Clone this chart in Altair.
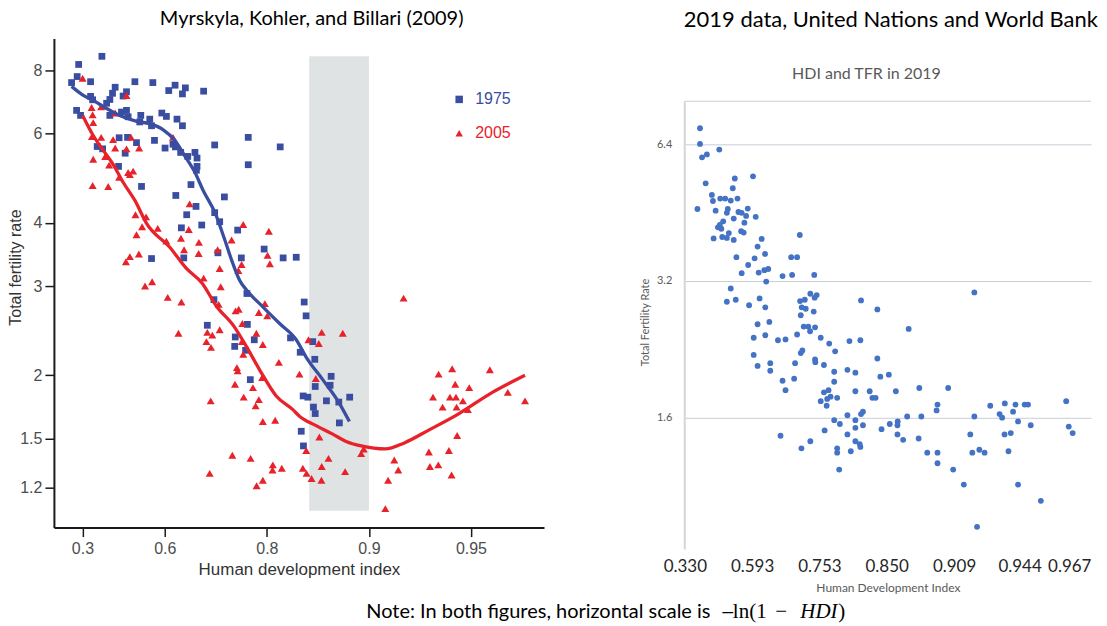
import math
import altair as alt
import pandas as pd

# ---------------- LEFT PANEL: Myrskyla, Kohler & Billari (2009) ----------------
# x values are the plotted HDI scale, i.e. -ln(1 - HDI); y values are TFR
x_1975 = [0.489, 0.331, 0.321, 0.283, 0.412, 0.713, 0.835, 0.986, 1.056, 0.943,
          1.036, 1.180, 0.579, 0.561, 0.543, 0.521, 0.412, 0.426, 0.656, 0.633,
          0.317, 0.344, 0.543, 0.622, 0.656, 0.667, 0.753, 0.746, 0.814, 0.826,
          0.896, 0.927, 0.999, 1.036, 0.606, 0.663, 0.724, 0.846, 0.918, 0.972,
          0.988, 1.255, 1.483, 1.483, 0.457, 0.494, 0.647, 0.602, 1.024, 1.072,
          1.121, 1.135, 1.135, 1.131, 1.094, 0.758, 0.991, 1.321,
          1.128, 1.065, 1.255, 1.289, 1.167, 1.029, 1.411, 0.826, 1.045, 1.277,
          1.436, 1.474, 1.250, 1.205, 1.395, 1.477,
          1.863, 1.876, 1.524, 1.391, 1.465, 1.770, 1.836, 1.921, 1.935, 2.046,
          1.938, 2.039, 1.497, 1.856, 1.888, 2.014, 2.098, 2.172, 1.926,
          1.938, 2.102, 1.843, 1.858,
          1.700, 1.720, 1.809, 1.591]
tfr_1975 = [8.53, 8.22, 7.78, 7.57, 7.60, 7.60, 7.57, 7.48, 7.39, 7.30,
            7.19, 7.28, 7.41, 7.21, 7.01, 6.89, 7.11, 7.00, 7.26, 7.12,
            6.67, 6.52, 6.52, 6.62, 6.67, 6.48, 6.52, 6.33, 6.41, 6.22,
            6.59, 6.49, 6.41, 6.22, 5.89, 5.90, 5.76, 5.82, 5.62, 5.72,
            5.65, 5.70, 5.90, 5.21, 5.66, 5.60, 5.49, 5.17, 5.51, 5.41,
            5.51, 5.37, 5.17, 5.08, 4.76, 4.72, 4.53, 4.50,
            4.31, 4.15, 4.19, 4.02, 3.96, 3.91, 3.87, 3.40, 3.41, 3.49,
            3.41, 2.90, 2.82, 2.51, 2.38, 2.52,
            2.79, 2.62, 2.35, 2.28, 2.24, 2.37, 2.22, 2.33, 2.15, 1.99,
            1.90, 1.91, 1.96, 1.82, 1.81, 1.78, 1.77, 1.81, 1.73,
            1.68, 1.61, 1.55, 1.45,
            5.65, 3.41, 3.42, 3.55]

x_2005 = [0.358, 0.656, 0.419, 0.484, 0.426, 0.579, 0.430, 0.421, 0.484, 0.565,
          0.687, 0.742, 0.656, 0.579, 0.511, 0.430, 0.538, 0.606, 0.667, 0.701,
          0.679, 0.426, 0.532, 0.972,
          1.085, 0.717, 0.789, 0.762, 0.868, 0.724, 1.079, 1.026, 1.148, 0.927,
          1.047, 1.146, 1.275, 1.449, 1.370, 0.740, 0.679, 0.652, 1.289, 1.180,
          1.438, 1.416, 0.830, 0.782, 1.296, 0.936, 1.029, 1.282, 1.418, 1.397,
          1.009, 1.205, 1.289, 1.239, 1.443,
          1.596, 1.555, 1.612, 1.538, 1.199, 1.230, 1.440, 1.582, 1.449, 1.691,
          1.406, 1.411, 1.892, 1.982, 1.962, 2.125, 1.831, 1.942, 1.393, 1.515,
          1.578, 1.228, 1.452, 1.555, 1.533,
          1.582, 1.666, 1.966, 1.375, 1.499, 1.877, 2.028, 1.650, 1.648, 1.711,
          1.854, 1.982, 1.221, 1.582, 1.540, 1.879, 1.913, 1.980, 2.141, 2.250,
          2.267,
          2.538, 2.776, 2.868, 2.889, 2.984, 3.124, 2.738, 2.853, 2.894, 2.941,
          2.803, 2.898, 2.975, 3.246, 3.363, 2.902, 2.710, 2.846, 2.717, 2.774,
          2.864, 2.475, 2.502, 2.433, 2.414,
          1.623, 1.614, 1.630]
tfr_2005 = [7.72, 7.14, 6.76, 6.78, 6.54, 6.59, 6.31, 5.92, 5.90, 5.84,
            5.90, 5.62, 5.60, 5.62, 5.41, 5.34, 5.20, 4.92, 5.03, 5.06,
            4.98, 4.74, 4.72, 5.90,
            4.36, 4.15, 4.11, 3.93, 3.90, 3.79, 3.88, 3.73, 3.66, 3.68,
            3.54, 3.48, 3.54, 3.97, 3.70, 3.47, 3.43, 3.35, 3.25, 3.11,
            3.31, 3.22, 3.06, 3.00, 2.99, 2.85, 2.79, 2.76, 2.70, 2.68,
            2.42, 2.43, 2.46, 2.40, 2.53,
            2.77, 2.66, 2.62, 2.42, 2.33, 2.27, 2.33, 2.30, 2.20, 2.12,
            2.07, 2.04, 2.35, 2.43, 2.31, 2.42, 2.01, 1.97, 1.92, 1.89,
            1.98, 1.78, 1.81, 1.79, 1.74,
            1.62, 1.63, 1.51, 1.39, 1.37, 1.42, 1.37, 1.33, 1.30, 1.31,
            1.31, 1.32, 1.28, 1.24, 1.21, 1.28, 1.25, 1.24, 1.29, 1.40,
            1.43,
            2.84, 2.01, 2.06, 1.92, 1.89, 2.05, 1.81, 1.81, 1.81, 1.78,
            1.73, 1.73, 1.71, 1.85, 1.78, 1.52, 1.41, 1.42, 1.32, 1.33,
            1.27, 1.36, 1.30, 1.24, 1.09,
            3.85, 3.45, 3.32]

# smoothed curves of the original figure
line_x_1975 = [0.283, 0.357, 0.430, 0.524, 0.618, 0.720, 0.814, 0.908, 0.980, 1.053,
               1.118, 1.176, 1.260, 1.321, 1.379, 1.424, 1.470, 1.582, 1.696, 1.809,
               1.877, 1.989, 2.102, 2.170]
line_tfr_1975 = [7.44, 7.16, 6.98, 6.72, 6.50, 6.35, 6.28, 6.10, 5.84, 5.42,
                 5.05, 4.64, 4.17, 3.72, 3.32, 3.08, 2.95, 2.73, 2.53, 2.35,
                 2.17, 1.96, 1.76, 1.62]
line_x_2005 = [0.358, 0.430, 0.498, 0.565, 0.633, 0.713, 0.792, 0.950, 1.063, 1.170,
               1.266, 1.385, 1.470, 1.560, 1.673, 1.786, 1.831, 1.944, 2.057, 2.148,
               2.250, 2.414, 2.543, 2.712, 2.915, 3.141, 3.363]
line_tfr_2005 = [6.52, 5.95, 5.56, 5.22, 4.81, 4.43, 3.99, 3.58, 3.25, 3.04,
                 2.74, 2.50, 2.28, 2.05, 1.82, 1.71, 1.66, 1.59, 1.53, 1.48,
                 1.45, 1.43, 1.47, 1.56, 1.68, 1.85, 2.00]

years = ["1975", "2005"]
left_tick_hdi = [0.3, 0.6, 0.8, 0.9, 0.95]
left_tick_tfr = [1.2, 1.5, 2, 3, 4, 6, 8]
band_hdi = [0.85, 0.90]
band_tfr = [1.08, 8.53]

# ---------------- RIGHT PANEL: 2019, UN and World Bank ----------------
x_2019 = [0.513, 0.513, 0.528, 0.564, 0.656, 0.555, 0.771, 0.906, 0.756, 0.601,
          0.609, 0.663, 0.700, 0.741, 0.791, 0.494, 0.629, 0.719, 0.712, 0.798,
          0.822, 0.867, 0.855, 0.926, 0.763, 0.842, 0.685, 0.660, 0.646, 0.671,
          0.818, 0.837, 0.727, 0.678, 0.712, 0.614, 0.763, 0.970, 1.253, 0.940,
          0.995, 0.783, 0.918, 1.189, 1.233, 0.870, 0.822, 0.948, 0.990, 1.019,
          1.004, 1.125, 1.196, 1.360, 0.741, 0.712, 0.778, 0.877, 0.955, 0.997,
          0.940, 1.027, 1.331, 1.378, 1.363, 1.255, 1.290, 1.267, 1.297, 1.356,
          1.260, 1.282, 1.316, 1.366, 1.707, 1.828,
          1.329, 0.911, 0.997, 1.091, 1.147, 1.233, 1.408, 1.471, 1.515, 1.621,
          1.702, 0.911, 0.940, 1.034, 1.034, 1.260, 1.272, 1.218, 1.366, 1.368,
          1.432, 1.508, 1.606, 1.665, 1.828, 1.850, 1.125, 1.211, 1.147, 1.508,
          1.432, 1.466, 1.481, 1.456, 1.530, 1.408, 1.452, 1.665, 1.771, 1.791,
          1.815, 1.721, 1.707, 1.606, 1.665, 1.508, 1.550, 1.721, 1.665, 1.437,
          1.859, 1.606, 1.110, 1.331, 1.265, 1.665, 1.697, 1.702, 1.530, 1.530,
          1.631, 1.545,
          2.547, 2.060, 1.913, 1.965, 2.139, 2.353, 2.274, 2.267, 2.049, 2.154,
          2.547, 2.665, 2.773, 2.852, 2.920, 2.945, 3.228, 2.734, 2.753, 2.834,
          2.871, 2.965, 3.247, 3.276, 1.920, 1.979, 1.977, 1.977, 2.019, 2.134,
          2.517, 2.771, 2.817, 2.198, 2.274, 2.274, 2.532, 2.584, 2.623, 2.800,
          2.390, 2.469, 2.871, 3.040, 2.567]
tfr_2019 = [6.94, 6.41, 5.99, 6.08, 6.23, 5.25, 5.38, 5.44, 5.12, 4.95,
            4.80, 4.86, 4.86, 4.81, 4.86, 4.61, 4.57, 4.61, 4.52, 4.54,
            4.52, 4.62, 4.45, 4.43, 4.39, 4.30, 4.33, 4.25, 4.20, 4.17,
            4.12, 4.09, 4.08, 4.00, 3.98, 3.97, 3.94, 3.96, 4.04, 3.81,
            3.67, 3.61, 3.59, 3.61, 3.61, 3.47, 3.33, 3.34, 3.38, 3.40,
            3.19, 3.28, 3.30, 3.30, 3.08, 2.88, 2.91, 2.83, 2.93, 2.80,
            2.57, 2.60, 3.00, 2.98, 2.94, 2.89, 2.91, 2.80, 2.78, 2.74,
            2.69, 2.54, 2.54, 2.53, 2.90, 2.77,
            2.48, 2.40, 2.43, 2.37, 2.38, 2.44, 2.40, 2.33, 2.24, 2.36,
            2.37, 2.20, 2.08, 2.11, 2.03, 2.22, 2.25, 2.11, 2.15, 2.12,
            2.09, 2.02, 2.04, 2.01, 2.16, 1.97, 1.93, 1.95, 1.84, 1.92,
            1.82, 1.84, 1.78, 1.76, 1.77, 1.74, 1.70, 1.83, 1.83, 1.77,
            1.77, 1.65, 1.63, 1.62, 1.58, 1.58, 1.55, 1.54, 1.52, 1.50,
            1.51, 1.47, 1.46, 1.42, 1.37, 1.42, 1.40, 1.38, 1.37, 1.34,
            1.35, 1.23,
            3.02, 2.51, 1.99, 1.83, 1.86, 1.86, 1.71, 1.66, 1.61, 1.61,
            1.61, 1.70, 1.72, 1.71, 1.71, 1.71, 1.74, 1.63, 1.60, 1.65,
            1.57, 1.54, 1.53, 1.48, 1.55, 1.57, 1.54, 1.47, 1.43, 1.44,
            1.47, 1.47, 1.48, 1.34, 1.34, 1.27, 1.34, 1.36, 1.34, 1.35,
            1.23, 1.14, 1.14, 1.05, 0.92]
right_tick_hdi = [0.330, 0.593, 0.753, 0.850, 0.909, 0.944, 0.967]
right_tick_tfr = [1.6, 3.2, 6.4]

left_title = "Myrskyla, Kohler, and Billari (2009)"
right_title = "2019 data, United Nations and World Bank"
right_subtitle = "HDI and TFR in 2019"
note_parts = ["Note: In both figures, horizontal scale is", "\u2013ln(1", "\u2212", "HDI", ")"]

# ---------------- helpers / styles ----------------
BLUE = "#3a4ea1"
RED = "#e8222b"
DOT = "#4472c4"
BAND = "#dfe3e3"
AX = "#1a1a1a"


def nlog(h):
    return -math.log(1.0 - h)


L_X_DOMAIN = [0.163, 3.492]
L_Y_DOMAIN = [1.0, 9.25]
R_X_DOMAIN = [0.4, 3.412]
R_Y_DOMAIN = [0.82, 10.94]
R_FRAME_TOP = 7.96

XL = alt.Scale(domain=L_X_DOMAIN, nice=False, zero=False)
YL = alt.Scale(type="log", domain=L_Y_DOMAIN, nice=False)
XR = alt.Scale(domain=R_X_DOMAIN, nice=False, zero=False)
YR = alt.Scale(type="log", domain=R_Y_DOMAIN, nice=False)

axis_xl = alt.Axis(values=[nlog(h) for h in left_tick_hdi],
                   labelExpr="format(1 - exp(-datum.value), '.2~f')",
                   title="Human development index", grid=False,
                   domainColor=AX, domainWidth=2, tickColor=AX, tickWidth=1.5, tickSize=9,
                   labelFont="Liberation Sans", labelFontSize=16, labelColor="#4d4d4d",
                   labelPadding=4, labelFlush=False, labelOverlap=False,
                   titleFont="Liberation Sans", titleFontSize=17, titleFontWeight="normal",
                   titleColor="#333333", titleBaseline="top", titleY=34)
axis_yl = alt.Axis(values=left_tick_tfr, format="~g", title="Total fertility rate", grid=False,
                   domainColor=AX, domainWidth=2, tickColor=AX, tickWidth=1.5, tickSize=9,
                   labelFont="Liberation Sans", labelFontSize=16, labelColor="#4d4d4d",
                   labelPadding=3, labelFlush=False, labelOverlap=False,
                   titleFont="Liberation Sans", titleFontSize=16, titleFontWeight="normal",
                   titleColor="#333333", titleX=-38, titleY=229, titleAlign="center",
                   titleBaseline="middle")

leg = alt.Legend(title=None, orient="none", legendX=398, legendY=53, padding=0, rowPadding=18,
                 labelFont="Liberation Sans", labelFontSize=16, labelOffset=8, symbolSize=56,
                 symbolStrokeWidth=0, symbolOpacity=1,
                 labelColor=alt.ExprRef(expr="datum.label == '1975' ? '%s' : '%s'" % (BLUE, RED)))

color_enc = alt.Color("year:N", scale=alt.Scale(domain=years, range=[BLUE, RED]), legend=leg)
shape_enc = alt.Shape("year:N", scale=alt.Scale(domain=years, range=["square", "triangle-up"]), legend=leg)

df75 = pd.DataFrame({"x": x_1975, "tfr": tfr_1975, "year": "1975"})
df05 = pd.DataFrame({"x": x_2005, "tfr": tfr_2005, "year": "2005"})
dl75 = pd.DataFrame({"x": line_x_1975, "tfr": line_tfr_1975})
dl05 = pd.DataFrame({"x": line_x_2005, "tfr": line_tfr_2005})
dband = pd.DataFrame({"x": [nlog(band_hdi[0])], "x2": [nlog(band_hdi[1])],
                      "y": [band_tfr[0]], "y2": [band_tfr[1]]})

band = alt.Chart(dband).mark_rect(color=BAND).encode(
    x=alt.X("x:Q", scale=XL, axis=axis_xl), x2="x2:Q",
    y=alt.Y("y:Q", scale=YL, axis=axis_yl), y2="y2:Q")


def pts(df, size):
    return alt.Chart(df).mark_point(filled=True, opacity=1, size=size, strokeWidth=0).encode(
        x=alt.X("x:Q", scale=XL, axis=axis_xl),
        y=alt.Y("tfr:Q", scale=YL, axis=axis_yl),
        color=color_enc, shape=shape_enc)


def curve(df, col):
    return alt.Chart(df).mark_line(color=col, strokeWidth=3.3, interpolate="monotone").encode(
        x=alt.X("x:Q", scale=XL, axis=axis_xl),
        y=alt.Y("tfr:Q", scale=YL, axis=axis_yl))


note_df = pd.DataFrame({"t": note_parts})


def note_piece(i, x, align, font, size, style="normal"):
    return alt.Chart(note_df.iloc[[i]]).mark_text(
        align=align, baseline="alphabetic", font=font, fontSize=size, fontStyle=style,
        color="#000000").encode(x=alt.value(x), y=alt.value(580.5), text="t:N")


notes = [
    note_piece(0, 657.7, "right", "Lato", 20),
    note_piece(1, 669.7, "left", "Liberation Serif", 21),
    note_piece(2, 722.7, "left", "Liberation Serif", 21),
    note_piece(3, 747.7, "left", "Liberation Serif", 21, "italic"),
    note_piece(4, 785.7, "left", "Liberation Serif", 21),
]

left = alt.layer(band, pts(df75, 46), pts(df05, 64), curve(dl75, BLUE), curve(dl05, RED),
                 *notes).properties(
    width=491, height=490,
    title=alt.TitleParams(left_title, font="Lato", fontSize=20, fontWeight="normal",
                          color="#000000", anchor="middle", frame="group", dx=12.7,
                          offset=-6, baseline="alphabetic"))

# ---------------- right panel ----------------
df19 = pd.DataFrame({"x": x_2019, "tfr": tfr_2019})

axis_xr = alt.Axis(values=[nlog(h) for h in right_tick_hdi],
                   labelExpr="format(1 - exp(-datum.value), '.3f')",
                   title="Human Development Index", grid=False, domain=False, ticks=False,
                   labelFont="Lato", labelFontSize=17, labelColor="#262626", labelPadding=9,
                   labelFlush=False, labelOverlap=False,
                   labelAlign=alt.condition("datum.value > 3.3", alt.value("right"), alt.value("center")),
                   titleFont="Lato", titleFontSize=12, titleFontWeight="normal",
                   titleColor="#595959", titleBaseline="top", titleY=33)
axis_yr = alt.Axis(values=right_tick_tfr, format="~g", title="Total Fertility Rate",
                   grid=True, gridColor="#c9cdd6", gridWidth=1, domain=False, ticks=False,
                   labelFont="Lato", labelFontSize=11, labelColor="#595959", labelPadding=13,
                   titleFont="Lato", titleFontSize=11, titleFontWeight="normal",
                   titleColor="#595959", titleX=-39, titleY=284, titleAlign="center",
                   titleBaseline="middle")

frame_df = pd.DataFrame({"x": [R_X_DOMAIN[0]], "x2": [R_X_DOMAIN[1]],
                         "y": [R_Y_DOMAIN[0]], "top": [R_FRAME_TOP]})

top_rule = alt.Chart(frame_df).mark_rule(color="#c9ccd4", strokeWidth=1.2).encode(
    x=alt.X("x:Q", scale=XR, axis=axis_xr), x2="x2:Q",
    y=alt.Y("top:Q", scale=YR, axis=axis_yr))
left_rule = alt.Chart(frame_df).mark_rule(color="#d6d6d6", strokeWidth=2).encode(
    x=alt.X("x:Q", scale=XR, axis=axis_xr),
    y=alt.Y("y:Q", scale=YR, axis=axis_yr), y2="top:Q")
dots = alt.Chart(df19).mark_circle(size=34, color=DOT, opacity=1).encode(
    x=alt.X("x:Q", scale=XR, axis=axis_xr),
    y=alt.Y("tfr:Q", scale=YR, axis=axis_yr))
sub = alt.Chart(pd.DataFrame({"t": [right_subtitle]})).mark_text(
    font="Lato", fontSize=16, color="#595959", align="center", baseline="middle").encode(
    x=alt.value(182), y=alt.value(36), text="t:N")

right = alt.layer(top_rule, left_rule, dots, sub).properties(
    width=407, height=512,
    title=alt.TitleParams(right_title, font="Lato", fontSize=22, fontWeight="normal",
                          color="#000000", anchor="middle", frame="group", dx=3,
                          offset=-10, baseline="alphabetic"))

chart = alt.hconcat(left, right, spacing=141, bounds="flush").properties(
    padding={"left": 0, "top": 0, "right": 0, "bottom": 0},
    background="white"
).configure_view(stroke=None)

chart.save("out.html", embed_options={"renderer": "svg", "actions": False})
